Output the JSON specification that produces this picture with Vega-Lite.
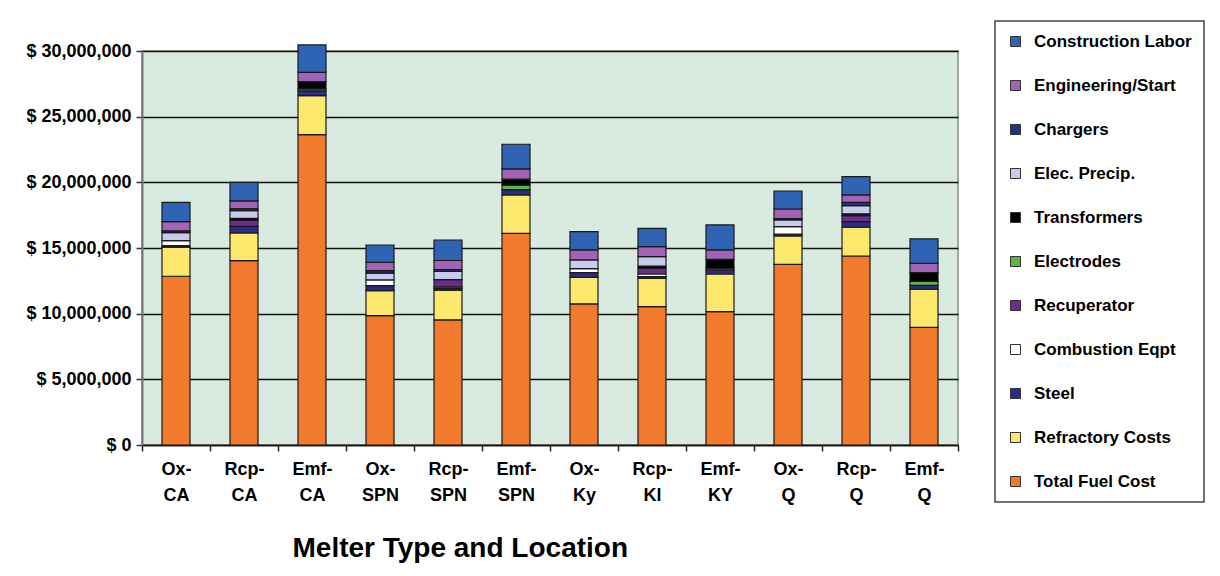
{
  "$schema": "https://vega.github.io/schema/vega-lite/v6.json",
  "width": 816,
  "height": 394,
  "autosize": {"type": "none"},
  "padding": {"left": 142, "top": 51, "right": 262, "bottom": 131},
  "background": "white",
  "config": {
    "view": {"fill": "#d9ebe1", "stroke": "#8a8a8a", "strokeWidth": 1.5},
    "font": "Liberation Sans",
    "legend": {"strokeWidth": 1.5}
  },
  "datasets": {
    "layers": [
      {"cost": "Total Fuel Cost", "layer": 1},
      {"cost": "Refractory Costs", "layer": 2},
      {"cost": "Steel", "layer": 3},
      {"cost": "Combustion Eqpt", "layer": 4},
      {"cost": "Recuperator", "layer": 5},
      {"cost": "Electrodes", "layer": 6},
      {"cost": "Transformers", "layer": 7},
      {"cost": "Elec. Precip.", "layer": 8},
      {"cost": "Chargers", "layer": 9},
      {"cost": "Engineering/Start", "layer": 10},
      {"cost": "Construction Labor", "layer": 11}
    ],
    "costs": [
      {"melter": "Ox-CA", "cost": "Total Fuel Cost", "value": 12850000},
      {"melter": "Ox-CA", "cost": "Refractory Costs", "value": 2210000},
      {"melter": "Ox-CA", "cost": "Steel", "value": 120000},
      {"melter": "Ox-CA", "cost": "Combustion Eqpt", "value": 380000},
      {"melter": "Ox-CA", "cost": "Elec. Precip.", "value": 610000},
      {"melter": "Ox-CA", "cost": "Chargers", "value": 130000},
      {"melter": "Ox-CA", "cost": "Engineering/Start", "value": 710000},
      {"melter": "Ox-CA", "cost": "Construction Labor", "value": 1470000},

      {"melter": "Rcp-CA", "cost": "Total Fuel Cost", "value": 14040000},
      {"melter": "Rcp-CA", "cost": "Refractory Costs", "value": 2110000},
      {"melter": "Rcp-CA", "cost": "Steel", "value": 500000},
      {"melter": "Rcp-CA", "cost": "Recuperator", "value": 450000},
      {"melter": "Rcp-CA", "cost": "Transformers", "value": 150000},
      {"melter": "Rcp-CA", "cost": "Elec. Precip.", "value": 600000},
      {"melter": "Rcp-CA", "cost": "Chargers", "value": 150000},
      {"melter": "Rcp-CA", "cost": "Engineering/Start", "value": 590000},
      {"melter": "Rcp-CA", "cost": "Construction Labor", "value": 1400000},

      {"melter": "Emf-CA", "cost": "Total Fuel Cost", "value": 23630000},
      {"melter": "Emf-CA", "cost": "Refractory Costs", "value": 2970000},
      {"melter": "Emf-CA", "cost": "Steel", "value": 360000},
      {"melter": "Emf-CA", "cost": "Electrodes", "value": 150000},
      {"melter": "Emf-CA", "cost": "Transformers", "value": 560000},
      {"melter": "Emf-CA", "cost": "Engineering/Start", "value": 710000},
      {"melter": "Emf-CA", "cost": "Construction Labor", "value": 2080000},

      {"melter": "Ox-SPN", "cost": "Total Fuel Cost", "value": 9850000},
      {"melter": "Ox-SPN", "cost": "Refractory Costs", "value": 1900000},
      {"melter": "Ox-SPN", "cost": "Steel", "value": 380000},
      {"melter": "Ox-SPN", "cost": "Combustion Eqpt", "value": 440000},
      {"melter": "Ox-SPN", "cost": "Elec. Precip.", "value": 510000},
      {"melter": "Ox-SPN", "cost": "Chargers", "value": 200000},
      {"melter": "Ox-SPN", "cost": "Engineering/Start", "value": 620000},
      {"melter": "Ox-SPN", "cost": "Construction Labor", "value": 1330000},

      {"melter": "Rcp-SPN", "cost": "Total Fuel Cost", "value": 9520000},
      {"melter": "Rcp-SPN", "cost": "Refractory Costs", "value": 2280000},
      {"melter": "Rcp-SPN", "cost": "Steel", "value": 120000},
      {"melter": "Rcp-SPN", "cost": "Combustion Eqpt", "value": 120000},
      {"melter": "Rcp-SPN", "cost": "Recuperator", "value": 550000},
      {"melter": "Rcp-SPN", "cost": "Elec. Precip.", "value": 620000},
      {"melter": "Rcp-SPN", "cost": "Chargers", "value": 140000},
      {"melter": "Rcp-SPN", "cost": "Engineering/Start", "value": 700000},
      {"melter": "Rcp-SPN", "cost": "Construction Labor", "value": 1560000},

      {"melter": "Emf-SPN", "cost": "Total Fuel Cost", "value": 16120000},
      {"melter": "Emf-SPN", "cost": "Refractory Costs", "value": 2920000},
      {"melter": "Emf-SPN", "cost": "Steel", "value": 400000},
      {"melter": "Emf-SPN", "cost": "Electrodes", "value": 350000},
      {"melter": "Emf-SPN", "cost": "Transformers", "value": 450000},
      {"melter": "Emf-SPN", "cost": "Engineering/Start", "value": 780000},
      {"melter": "Emf-SPN", "cost": "Construction Labor", "value": 1880000},

      {"melter": "Ox-Ky", "cost": "Total Fuel Cost", "value": 10740000},
      {"melter": "Ox-Ky", "cost": "Refractory Costs", "value": 2030000},
      {"melter": "Ox-Ky", "cost": "Steel", "value": 350000},
      {"melter": "Ox-Ky", "cost": "Combustion Eqpt", "value": 310000},
      {"melter": "Ox-Ky", "cost": "Elec. Precip.", "value": 660000},
      {"melter": "Ox-Ky", "cost": "Engineering/Start", "value": 760000},
      {"melter": "Ox-Ky", "cost": "Construction Labor", "value": 1400000},

      {"melter": "Rcp-Kl", "cost": "Total Fuel Cost", "value": 10530000},
      {"melter": "Rcp-Kl", "cost": "Refractory Costs", "value": 2160000},
      {"melter": "Rcp-Kl", "cost": "Steel", "value": 130000},
      {"melter": "Rcp-Kl", "cost": "Combustion Eqpt", "value": 200000},
      {"melter": "Rcp-Kl", "cost": "Recuperator", "value": 440000},
      {"melter": "Rcp-Kl", "cost": "Transformers", "value": 170000},
      {"melter": "Rcp-Kl", "cost": "Elec. Precip.", "value": 710000},
      {"melter": "Rcp-Kl", "cost": "Engineering/Start", "value": 760000},
      {"melter": "Rcp-Kl", "cost": "Construction Labor", "value": 1400000},

      {"melter": "Emf-KY", "cost": "Total Fuel Cost", "value": 10150000},
      {"melter": "Emf-KY", "cost": "Refractory Costs", "value": 2870000},
      {"melter": "Emf-KY", "cost": "Steel", "value": 310000},
      {"melter": "Emf-KY", "cost": "Electrodes", "value": 130000},
      {"melter": "Emf-KY", "cost": "Transformers", "value": 680000},
      {"melter": "Emf-KY", "cost": "Engineering/Start", "value": 710000},
      {"melter": "Emf-KY", "cost": "Construction Labor", "value": 1910000},

      {"melter": "Ox-Q", "cost": "Total Fuel Cost", "value": 13760000},
      {"melter": "Ox-Q", "cost": "Refractory Costs", "value": 2160000},
      {"melter": "Ox-Q", "cost": "Steel", "value": 130000},
      {"melter": "Ox-Q", "cost": "Combustion Eqpt", "value": 580000},
      {"melter": "Ox-Q", "cost": "Elec. Precip.", "value": 510000},
      {"melter": "Ox-Q", "cost": "Chargers", "value": 100000},
      {"melter": "Ox-Q", "cost": "Engineering/Start", "value": 730000},
      {"melter": "Ox-Q", "cost": "Construction Labor", "value": 1370000},

      {"melter": "Rcp-Q", "cost": "Total Fuel Cost", "value": 14390000},
      {"melter": "Rcp-Q", "cost": "Refractory Costs", "value": 2190000},
      {"melter": "Rcp-Q", "cost": "Steel", "value": 430000},
      {"melter": "Rcp-Q", "cost": "Recuperator", "value": 450000},
      {"melter": "Rcp-Q", "cost": "Transformers", "value": 140000},
      {"melter": "Rcp-Q", "cost": "Elec. Precip.", "value": 620000},
      {"melter": "Rcp-Q", "cost": "Chargers", "value": 260000},
      {"melter": "Rcp-Q", "cost": "Engineering/Start", "value": 560000},
      {"melter": "Rcp-Q", "cost": "Construction Labor", "value": 1390000},

      {"melter": "Emf-Q", "cost": "Total Fuel Cost", "value": 8960000},
      {"melter": "Emf-Q", "cost": "Refractory Costs", "value": 2900000},
      {"melter": "Emf-Q", "cost": "Steel", "value": 300000},
      {"melter": "Emf-Q", "cost": "Electrodes", "value": 300000},
      {"melter": "Emf-Q", "cost": "Transformers", "value": 660000},
      {"melter": "Emf-Q", "cost": "Engineering/Start", "value": 720000},
      {"melter": "Emf-Q", "cost": "Construction Labor", "value": 1850000}
    ]
  },
  "data": {"name": "costs"},
  "transform": [
    {"lookup": "cost", "from": {"data": {"name": "layers"}, "key": "cost", "fields": ["layer"]}}
  ],
  "mark": {"type": "bar", "size": 28, "stroke": "#1a1a1a", "strokeWidth": 1.2},
  "encoding": {
    "x": {
      "field": "melter",
      "type": "nominal",
      "sort": ["Ox-CA", "Rcp-CA", "Emf-CA", "Ox-SPN", "Rcp-SPN", "Emf-SPN", "Ox-Ky", "Rcp-Kl", "Emf-KY", "Ox-Q", "Rcp-Q", "Emf-Q"],
      "scale": {"paddingInner": 0, "paddingOuter": 0},
      "axis": {
        "labelExpr": "[slice(datum.label, 0, indexof(datum.label, '-') + 1), slice(datum.label, indexof(datum.label, '-') + 1)]",
        "labelAngle": 0,
        "labelFont": "Liberation Sans",
        "labelFontWeight": "bold",
        "labelFontSize": 18,
        "labelLineHeight": 26,
        "labelColor": "#000000",
        "labelPadding": 9,
        "tickBand": "extent",
        "ticks": true,
        "tickSize": 6,
        "tickColor": "#222222",
        "tickWidth": 1.5,
        "domainColor": "#111111",
        "domainWidth": 1.5,
        "grid": false,
        "title": "Melter Type and Location",
        "titleFont": "Liberation Sans",
        "titleFontSize": 28,
        "titleFontWeight": "bold",
        "titleColor": "#000000",
        "titleAlign": "left",
        "titleX": 150,
        "titleY": 111,
        "titleBaseline": "alphabetic"
      }
    },
    "y": {
      "field": "value",
      "type": "quantitative",
      "stack": "zero",
      "scale": {"domain": [0, 30000000], "nice": false},
      "axis": {
        "values": [0, 5000000, 10000000, 15000000, 20000000, 25000000, 30000000],
        "labelExpr": "'$ ' + format(datum.value, ',')",
        "labelFont": "Liberation Sans",
        "labelFontWeight": "bold",
        "labelFontSize": 18,
        "labelColor": "#000000",
        "labelPadding": 5,
        "tickSize": 6,
        "tickColor": "#333333",
        "tickWidth": 1.5,
        "domainColor": "#777777",
        "domainWidth": 2,
        "grid": true,
        "gridColor": "#111111",
        "gridWidth": 1.5,
        "title": null
      }
    },
    "order": {"field": "layer", "type": "quantitative", "sort": "ascending"},
    "color": {
      "field": "cost",
      "type": "nominal",
      "scale": {
        "domain": ["Total Fuel Cost", "Refractory Costs", "Steel", "Combustion Eqpt", "Recuperator", "Electrodes", "Transformers", "Elec. Precip.", "Chargers", "Engineering/Start", "Construction Labor"],
        "range": ["#f27a2c", "#fde86e", "#2b2b8c", "#ffffff", "#6b2c8f", "#5bb34a", "#000000", "#c8cbec", "#22338a", "#a263b6", "#2f63b3"]
      },
      "legend": {
        "values": ["Construction Labor", "Engineering/Start", "Chargers", "Elec. Precip.", "Transformers", "Electrodes", "Recuperator", "Combustion Eqpt", "Steel", "Refractory Costs", "Total Fuel Cost"],
        "orient": "none",
        "legendX": 853,
        "legendY": -30,
        "title": null,
        "padding": 12,
        "strokeColor": "#444444",
        "fillColor": "#ffffff",
        "symbolType": "square",
        "symbolSize": 100,
        "symbolStrokeColor": "#333333",
        "symbolStrokeWidth": 1,
        "labelFont": "Liberation Sans",
        "labelFontSize": 17,
        "labelFontWeight": "bold",
        "labelColor": "#000000",
        "labelOffset": 10,
        "labelLimit": 400,
        "rowPadding": 26
      }
    }
  }
}
